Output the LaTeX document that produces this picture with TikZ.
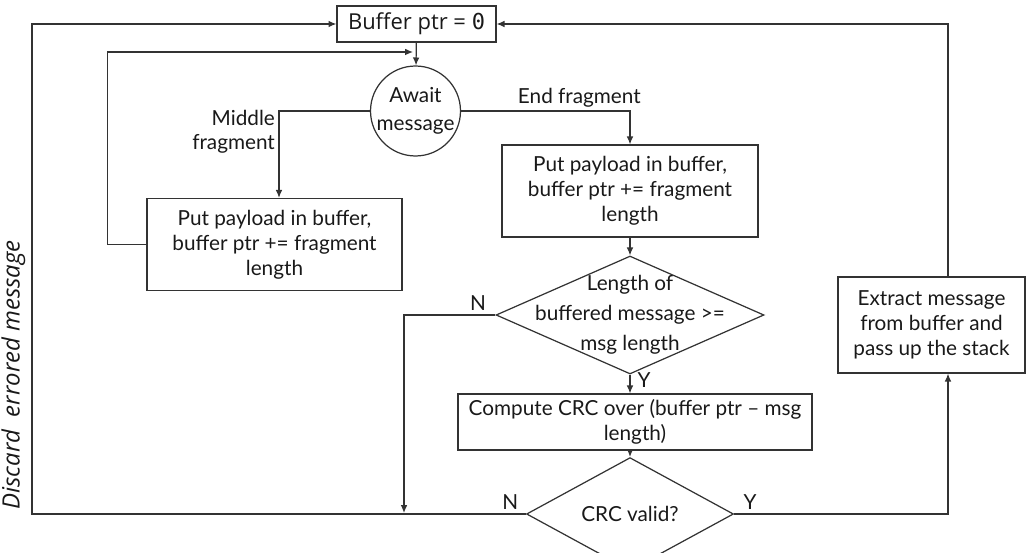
\documentclass[tikz,border=0pt]{standalone}
\usepackage{fontspec}
\setmainfont{Lato}
\newfontfamily\labelfont{Open Sans}
\newfontfamily\codefont{DejaVu Sans Mono}
\usepackage{tikz}
\usetikzlibrary{arrows.meta}
\usetikzlibrary{shapes.geometric}
\definecolor{ink}{HTML}{333333}
\tikzset{flowline/.style = {draw=ink, line width=0.7pt, -{Latex[length=4.5pt, width=3.8pt]}},
         flowbox/.style = {draw=ink, line width=0.7pt, rectangle, align=center, inner sep=2pt,
                           text=black!90, font=\fontsize{11.8}{14.3}\selectfont},
         decision/.style = {draw=ink, line width=0.7pt, diamond, inner sep=0pt,
                            text=black!90, font=\fontsize{11.8}{17}\selectfont},
         waitnode/.style = {draw=ink, line width=0.7pt, circle, inner sep=0pt,
                            text=black!90, font=\fontsize{11.8}{16}\selectfont},
         edgelabel/.style = {text=black!90, inner sep=2pt, font=\fontsize{11.8}{13.8}\selectfont}}
\newcommand{\overtext}[1]{\makebox[0pt]{\smash{\raisebox{-2.8pt}{\begin{tabular}{@{}c@{}}#1\end{tabular}}}}}

\begin{document}
\begin{tikzpicture}[x=0.02cm, y=-0.02cm]
      \useasboundingbox (0,0) rectangle (1026,553);
      \node [flowbox, minimum width=3.18cm, minimum height=0.72cm, font=\labelfont\fontsize{12.5}{14}\selectfont] (buf) at (416.5,24) {Buffer ptr = {\codefont 0}};
      \node [waitnode, minimum size=1.8cm] (await) at (415.5,111) {\overtext{Await\\message}};
      \node [flowbox, minimum width=5.1cm, minimum height=1.84cm] (mid) at (274.5,244.5) {Put payload in buffer,\\buffer ptr += fragment\\length};
      \node [flowbox, minimum width=5.12cm, minimum height=1.84cm] (endf) at (630,191) {Put payload in buffer,\\buffer ptr += fragment\\length};
      \node [decision, minimum width=5.36cm, minimum height=2.36cm] (len) at (630,315) {\overtext{Length of\\buffered message >=\\msg length}};
      \node [flowbox, minimum width=7.08cm, minimum height=1.12cm] (comp) at (635,422) {Compute CRC over (buffer ptr -- msg\\length)};
      \node [decision, minimum width=4.14cm, minimum height=1.52cm] (crc) at (630,514) {CRC valid?};
      \node [flowbox, minimum width=3.74cm, minimum height=1.92cm] (ext) at (931.5,325) {Extract message\\from buffer and\\pass up the stack};
      \coordinate (merge) at (413,52);
      \coordinate (drop) at (404,513);

      \draw [flowline] (buf) -- (await);
      \draw [flowline] (await.west) -| node [edgelabel, pos=0.5, anchor=north east, align=right, yshift=3pt] {Middle\\fragment} ([xshift=0.09cm]mid.north);
      \draw [flowline] (mid.west) -- ++(-39,0) |- (merge);
      \draw [flowline] (await.east) -| node [edgelabel, pos=0.35, above] {End fragment} (endf.north);
      \draw [flowline] (endf) -- (len);
      \draw [flowline] (len.west) -| node [edgelabel, pos=0, above left, xshift=-3pt] {N} (drop);
      \draw [flowline] (len.south) -- node [edgelabel, pos=0.3, right, xshift=2pt] {Y} (len.south |- comp.north);
      \draw [flowline] (crc.north |- comp.south) -- (crc.north);
      \draw [flowline] (crc.east) -| node [edgelabel, pos=0, above right, xshift=3pt] {Y} ([xshift=0.33cm]ext.south);
      \draw [flowline] ([xshift=0.33cm]ext.north) |- (buf.east);
      \draw [flowline] (crc.west) -- node [edgelabel, pos=0, above left, xshift=-2pt] {N} ++(-494,0)
            |- node [sloped, above, pos=0.142, text=black!90, font=\labelfont\itshape\fontsize{13.6}{15}\selectfont] {Discard\ \ errored message} (buf.west);
    \end{tikzpicture}
\end{document}
